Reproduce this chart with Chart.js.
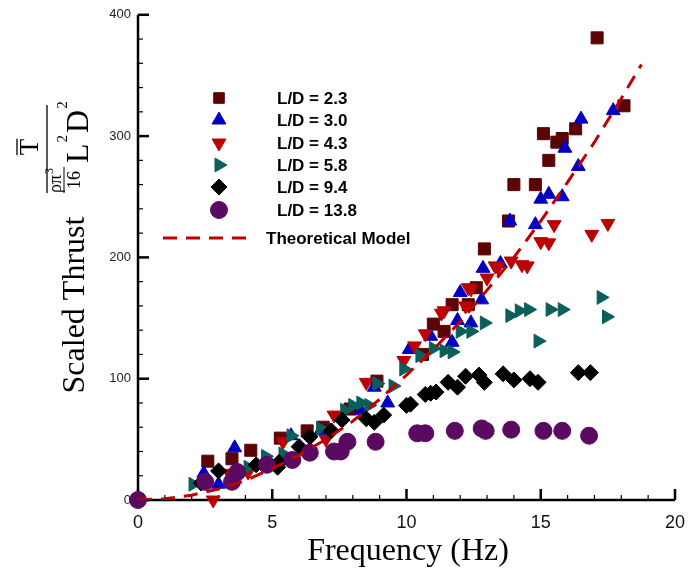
<!DOCTYPE html>
<html>
<head>
<meta charset="utf-8">
<script src="https://cdn.jsdelivr.net/npm/chart.js@4.4.1/dist/chart.umd.min.js"></script>
<style>
  body { margin: 0; background: #fff; }
</style>
</head>
<body>
<canvas id="thrustChart" width="697" height="569"></canvas>
<script>
// values (frequency in Hz, scaled thrust)
const freq23 = [2.6, 3.5, 4.2, 5.3, 6.3, 6.9, 7.9, 8.9, 10.6, 11.0, 11.4, 11.7, 12.3, 12.6, 12.9, 13.8, 14.0, 14.8, 15.1, 15.3, 15.6, 15.8, 16.3, 17.1, 18.1];
const thrust23 = [32, 34, 41, 51, 57, 60, 75, 98, 120, 145, 139, 161, 161, 175, 207, 230, 260, 260, 302, 280, 295, 298, 306, 381, 325];

const freq30 = [2.45, 3.0, 3.6, 5.7, 6.8, 8.3, 8.8, 9.3, 10.1, 10.9, 11.7, 11.9, 12.0, 12.4, 12.8, 12.85, 13.5, 13.85, 14.8, 15.0, 15.3, 15.8, 15.9, 16.4, 16.5, 17.7];
const thrust30 = [22, 13, 43, 53, 57, 74, 93, 80, 124, 135, 130, 148, 171, 146, 165, 191, 195, 230, 227, 248, 252, 250, 290, 275, 314, 321];

const freq43 = [2.8, 3.4, 4.1, 5.4, 7.0, 7.3, 8.5, 9.9, 10.3, 10.7, 11.3, 11.4, 12.2, 12.3, 12.4, 13.0, 13.3, 13.4, 13.9, 14.3, 14.5, 15.0, 15.3, 15.5, 16.9, 17.5];
const thrust43 = [0, 22, 23, 48, 50, 70, 97, 115, 127, 137, 154, 156, 160, 175, 174, 183, 193, 192, 197, 194, 193, 213, 212, 227, 219, 228];

const freq58 = [2.05, 4.1, 4.75, 5.4, 5.7, 6.8, 7.7, 8.0, 8.3, 8.6, 8.9, 9.5, 9.9, 10.5, 11.0, 11.4, 11.7, 12.0, 12.4, 12.9, 13.85, 14.2, 14.55, 14.9, 15.35, 15.8, 17.25, 17.45];
const thrust58 = [13, 27, 36, 38, 53, 59, 74, 78, 80, 78, 96, 94, 108, 119, 125, 123, 122, 139, 139, 146, 152, 156, 157, 131, 157, 157, 167, 151];

const freq94 = [2.35, 3.0, 4.4, 5.2, 5.25, 6.0, 6.4, 7.2, 7.6, 8.5, 8.8, 9.15, 10.0, 10.15, 10.7, 10.9, 11.1, 11.55, 11.9, 12.2, 12.7, 12.9, 13.6, 14.0, 14.6, 14.9, 16.4, 16.85];
const thrust94 = [14, 24, 29, 27, 31, 44, 52, 57, 66, 67, 64, 70, 78, 79, 87, 88, 89, 97, 93, 102, 103, 97, 104, 99, 100, 97, 105, 105];

const freq138 = [0, 2.5, 3.5, 3.7, 4.8, 5.75, 6.4, 7.3, 7.55, 7.8, 8.85, 10.4, 10.7, 11.8, 12.8, 12.95, 13.9, 15.1, 15.8, 16.8];
const thrust138 = [0, 15, 15, 23, 29, 33, 39, 40, 40, 48, 48, 55, 55, 57, 59, 57, 58, 57, 57, 53];

const freqModel = [0, 1, 2, 3, 4, 5, 6, 7, 8, 9, 10, 11, 12, 13, 14, 15, 16, 17, 18, 18.75];
const thrustModel = [0, 1, 4, 9, 16, 26, 37, 50, 65, 83, 103, 124, 147, 173, 200, 230, 262, 295, 331, 359];

const xTicks = [0, 5, 10, 15, 20];
const yTicks = [0, 100, 200, 300, 400];

const SERIF = "'Liberation Serif', 'DejaVu Serif', serif";
const SANS = "'Liberation Sans', Arial, sans-serif";

function pairs(xs, ys) {
  return xs.map((x, i) => ({ x: x, y: ys[i] }));
}

function markerSet(label, xs, ys, color, style, rotation, radius, order) {
  return {
    label: label,
    data: pairs(xs, ys),
    backgroundColor: color,
    borderColor: color,
    pointStyle: style,
    rotation: rotation,
    pointRadius: radius,
    pointBorderWidth: 1,
    clip: false,
    order: order
  };
}

const datasets = [
  markerSet('L/D = 2.3', freq23, thrust23, '#5c0404', 'rect', 0, 8.5, 6),
  markerSet('L/D = 3.0', freq30, thrust30, '#0000c4', 'triangle', 0, 8, 5),
  markerSet('L/D = 4.3', freq43, thrust43, '#bb0303', 'triangle', 180, 8, 4),
  markerSet('L/D = 5.8', freq58, thrust58, '#0b5f5b', 'triangle', 90, 8, 3),
  markerSet('L/D = 9.4', freq94, thrust94, '#000000', 'rectRot', 0, 8, 2),
  markerSet('L/D = 13.8', freq138, thrust138, '#5a0a60', 'circle', 0, 8.5, 1),
  {
    label: 'Theoretical Model',
    data: pairs(freqModel, thrustModel),
    showLine: true,
    borderColor: '#c00000',
    backgroundColor: '#c00000',
    borderWidth: 3,
    borderDash: [14, 9],
    pointRadius: 0,
    tension: 0,
    order: 0
  }
];

// axes drawn by hand so the ticks point inward like the original
const inwardAxes = {
  id: 'inwardAxes',
  beforeDatasetsDraw(chart) {
    const { ctx, chartArea: a, scales: { x, y } } = chart;
    ctx.save();
    ctx.strokeStyle = '#000';
    ctx.lineWidth = 2.5;
    ctx.beginPath();
    ctx.moveTo(a.left, a.top);
    ctx.lineTo(a.left, a.bottom);
    ctx.lineTo(a.right, a.bottom);
    ctx.stroke();

    for (let f = 0; f <= 20; f++) {
      const px = x.getPixelForValue(f);
      const major = xTicks.includes(f);
      ctx.lineWidth = major ? 2.5 : 1.2;
      ctx.beginPath();
      ctx.moveTo(px, a.bottom);
      ctx.lineTo(px, a.bottom - (major ? 11 : 5));
      ctx.stroke();
    }
    for (let v = 0; v <= 400; v += 20) {
      const py = y.getPixelForValue(v);
      const major = yTicks.includes(v);
      ctx.lineWidth = major ? 2.5 : 1.2;
      ctx.beginPath();
      ctx.moveTo(a.left, py);
      ctx.lineTo(a.left + (major ? 11 : 5), py);
      ctx.stroke();
    }
    ctx.restore();
  }
};

const labelsAndLegend = {
  id: 'labelsAndLegend',
  afterDraw(chart) {
    const ctx = chart.ctx;
    ctx.save();
    ctx.fillStyle = '#000';
    ctx.strokeStyle = '#000';

    // x title
    ctx.font = '32px ' + SERIF;
    ctx.textAlign = 'center';
    ctx.textBaseline = 'alphabetic';
    ctx.fillText('Frequency (Hz)', 408, 560);

    // y title
    ctx.save();
    ctx.translate(84, 305);
    ctx.rotate(-Math.PI / 2);
    ctx.fillText('Scaled Thrust', 0, 0);
    ctx.restore();

    // fraction T / (rho pi^3 / 16 L^2 D^2)
    ctx.save();
    ctx.translate(47, 149);
    ctx.rotate(-Math.PI / 2);
    ctx.lineWidth = 1.3;
    ctx.beginPath();
    ctx.moveTo(-44, 0);
    ctx.lineTo(44, 0);
    ctx.stroke();

    ctx.textAlign = 'center';
    ctx.font = '27px ' + SERIF;
    ctx.fillText('T', 2, -9);
    const tw = ctx.measureText('T').width;
    ctx.lineWidth = 1.3;
    ctx.beginPath();
    ctx.moveTo(2 - tw / 2, -30);
    ctx.lineTo(2 + tw / 2, -30);
    ctx.stroke();

    ctx.textAlign = 'left';
    let u = -44;
    ctx.font = '18px ' + SERIF;
    ctx.fillText('\u03c1\u03c0', u, 14);
    const w1 = ctx.measureText('\u03c1\u03c0').width;
    ctx.font = '12px ' + SERIF;
    ctx.fillText('3', u + w1 + 1, 6);
    const fracW = w1 + ctx.measureText('3').width + 2;
    ctx.lineWidth = 1;
    ctx.beginPath();
    ctx.moveTo(u, 17);
    ctx.lineTo(u + fracW, 17);
    ctx.stroke();
    ctx.font = '18px ' + SERIF;
    ctx.textAlign = 'center';
    ctx.fillText('16', u + fracW / 2, 33);
    ctx.textAlign = 'left';
    u += fracW + 4;
    ['L', 'D'].forEach(letter => {
      ctx.font = '32px ' + SERIF;
      ctx.fillText(letter, u, 41);
      u += ctx.measureText(letter).width + 1;
      ctx.font = '15px ' + SERIF;
      ctx.fillText('2', u, 20);
      u += ctx.measureText('2').width + 2;
    });
    ctx.restore();

    // legend
    const rows = [98, 120, 143, 165, 187, 210];
    ctx.font = 'bold 17px ' + SANS;
    ctx.textAlign = 'left';
    ctx.textBaseline = 'middle';
    chart.data.datasets.slice(0, 6).forEach((ds, i) => {
      ctx.fillStyle = ds.backgroundColor;
      ctx.strokeStyle = ds.borderColor;
      ctx.lineWidth = 1;
      Chart.helpers.drawPoint(ctx, {
        pointStyle: ds.pointStyle,
        rotation: ds.rotation,
        radius: ds.pointStyle === 'rect' ? 7.5 : ds.pointRadius,
        borderWidth: 1
      }, 219, rows[i]);
      ctx.fillStyle = '#000';
      ctx.fillText(ds.label, 277, rows[i] + 1);
    });
    const model = chart.data.datasets[6];
    ctx.strokeStyle = model.borderColor;
    ctx.lineWidth = 3;
    ctx.setLineDash([14, 9]);
    ctx.beginPath();
    ctx.moveTo(163, 238);
    ctx.lineTo(250, 238);
    ctx.stroke();
    ctx.setLineDash([]);
    ctx.fillStyle = '#000';
    ctx.fillText(model.label, 266, 239);
    ctx.restore();
  }
};

new Chart(document.getElementById('thrustChart').getContext('2d'), {
  type: 'scatter',
  data: { datasets: datasets },
  plugins: [inwardAxes, labelsAndLegend],
  options: {
    responsive: false,
    animation: false,
    devicePixelRatio: 1,
    layout: { padding: { top: 12, right: 19, left: 0, bottom: 0 } },
    plugins: {
      legend: { display: false },
      tooltip: { enabled: false }
    },
    scales: {
      x: {
        type: 'linear',
        min: 0,
        max: 20,
        afterFit: scale => { scale.height = 69; },
        grid: { display: false, drawTicks: false },
        border: { display: false },
        ticks: {
          stepSize: 5,
          padding: 12,
          color: '#111',
          font: { family: SANS, size: 18 }
        }
      },
      y: {
        type: 'linear',
        min: 0,
        max: 400,
        afterFit: scale => { scale.width = 138; },
        grid: { display: false, drawTicks: false },
        border: { display: false },
        ticks: {
          stepSize: 100,
          padding: 7,
          color: '#222',
          font: { family: SANS, size: 13 }
        }
      }
    }
  }
});
</script>
</body>
</html>
